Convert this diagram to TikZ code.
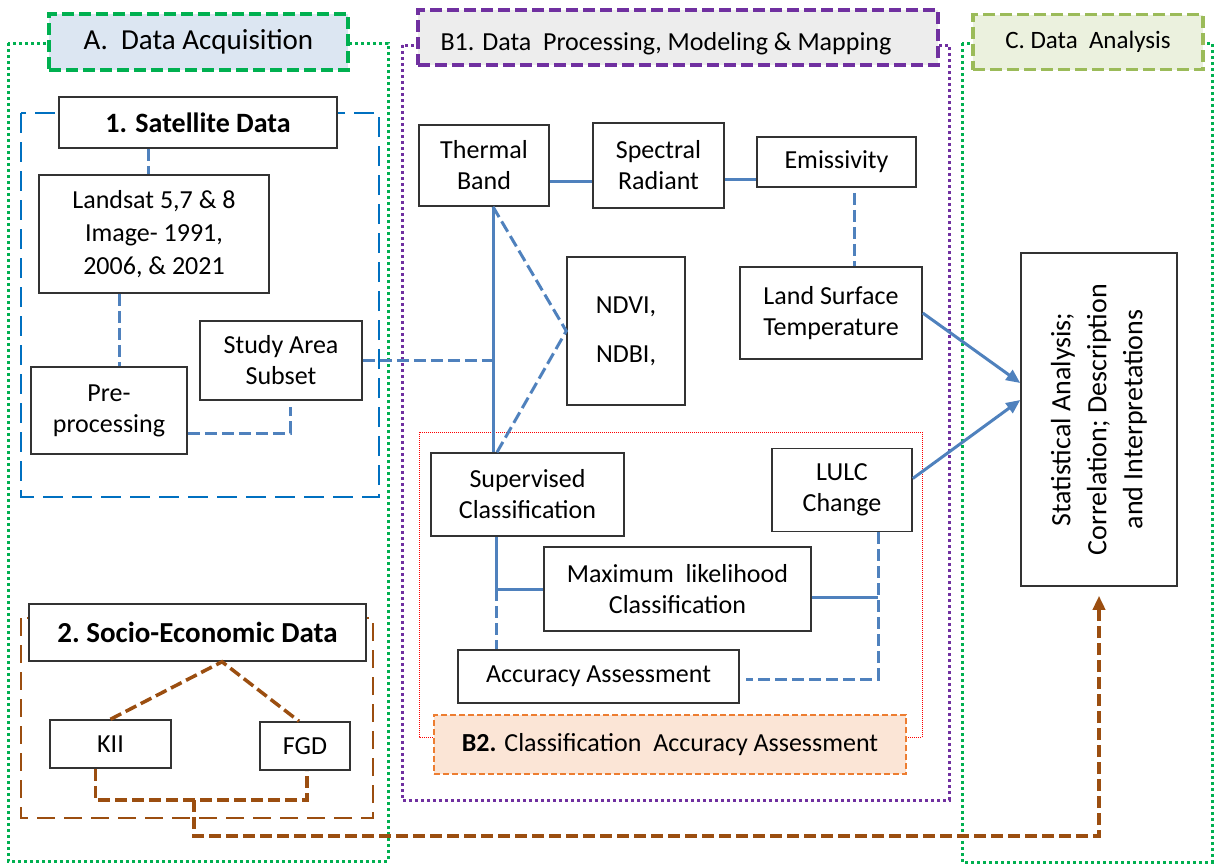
\documentclass[tikz,border=0pt]{standalone}
\usepackage{fontspec}
\setmainfont{Carlito}
\usetikzlibrary{arrows.meta,calc}
\definecolor{frgreen}{HTML}{00B050}
\definecolor{frpurple}{HTML}{7030A0}
\definecolor{frblue}{HTML}{0070C0}
\definecolor{connblue}{HTML}{4F81BD}
\definecolor{brownc}{RGB}{155,78,16}
\definecolor{boxline}{HTML}{333333}
\definecolor{fillA}{HTML}{DCE6F2}
\definecolor{fillB}{HTML}{EDEDED}
\definecolor{fillC}{HTML}{EBF1DE}
\definecolor{lineC}{HTML}{9BBB59}
\definecolor{fillBB}{HTML}{FBE5D6}
\definecolor{lineBB}{HTML}{ED7D31}
\tikzset{
  body/.style={font=\fontsize{26}{31}\selectfont},
  box/.style={draw=boxline, line width=1.5pt, fill=white, inner sep=0pt, align=center, body},
  gdot/.style={draw=frgreen, line width=3pt, dash pattern=on 3pt off 3pt},
  pdot/.style={draw=frpurple, line width=3pt, dash pattern=on 3pt off 3pt},
  satframe/.style={draw=frblue, line width=2.5pt, dash pattern=on 20pt off 9pt},
  socframe/.style={draw=brownc, line width=2.5pt, dash pattern=on 18pt off 9pt},
  redframe/.style={draw=red, line width=0.8pt, dash pattern=on 1pt off 1pt},
  titlebox/.style={line width=3.5pt, dash pattern=on 12pt off 5pt, inner sep=0pt, align=center},
  bsolid/.style={draw=connblue, line width=3pt},
  bdash/.style={draw=connblue, line width=3pt, dash pattern=on 12pt off 5pt},
  barrow/.style={bsolid, -{Triangle[length=14pt,width=12pt]}},
  brdash/.style={draw=brownc, line width=3.5pt, dash pattern=on 12pt off 5pt},
  brarrow/.style={brdash, -{Triangle[length=14pt,width=12pt]}},
}
\begin{document}
\begin{tikzpicture}[x=1pt,y=-1pt]
\useasboundingbox (0,0) rectangle (1214,863);

% section frames
\draw[gdot] (8,43) rectangle (388,861);
\draw[pdot] (402,45) rectangle (949,800);
\draw[gdot] (962,43) rectangle (1212,862);
\draw[satframe] (21,113) rectangle (379,497);
\draw[socframe] (21,618) rectangle (373,818);
\draw[redframe] (419,432) rectangle (922,737);

% section titles
\node[titlebox, draw=frgreen, fill=fillA, minimum width=299pt, minimum height=56pt,
      font=\fontsize{29}{34}\selectfont] (atitle) at (198.5,42) {A.\ \ Data Acquisition};
\node[titlebox, draw=frpurple, fill=fillB, line width=4pt, minimum width=520pt, minimum height=55pt] (b1title) at (678,37.5) {};
\node[body, inner sep=0pt] (b1text) at (666,44) {B1. Data\ \ Processing, Modeling \& Mapping};
\node[titlebox, draw=lineC, fill=fillC, minimum width=230pt, minimum height=55pt,
      font=\fontsize{25}{30}\selectfont] (ctitle) at (1088,42) {C. Data\ \ Analysis};
\node[titlebox, draw=lineBB, fill=fillBB, line width=2pt, dash pattern=on 6pt off 3pt,
      minimum width=472pt, minimum height=59pt, body] (b2title) at (670,744.5)
      {\textbf{B2.} Classification\ \ Accuracy Assessment};

% A. data acquisition boxes
\node[box, minimum width=278pt, minimum height=51pt, font=\bfseries\fontsize{28}{33}\selectfont] (sat) at (198,122.5) {1. Satellite Data};
\node[box, minimum width=230pt, minimum height=118pt, font=\fontsize{26}{33}\selectfont] (landsat) at (154,234) {Landsat 5,7 \& 8\\Image- 1991,\\2006, \& 2021};
\node[box, minimum width=156pt, minimum height=87pt] (pre) at (109,410.5) {Pre-\\processing};
\node[box, minimum width=162pt, minimum height=79pt] (study) at (281,360.5) {Study Area\\Subset};
\node[box, minimum width=337pt, minimum height=57pt, font=\bfseries\fontsize{29}{34}\selectfont] (socio) at (197.5,632.5) {2.\ Socio-Economic Data};
\node[box, minimum width=121pt, minimum height=48pt] (kii) at (110.5,744) {KII};
\node[box, minimum width=90pt, minimum height=48pt] (fgd) at (305,746) {FGD};

% B1. processing boxes
\node[box, minimum width=130pt, minimum height=81pt] (thermal) at (484,165.5) {Thermal\\Band};
\node[box, minimum width=131pt, minimum height=85pt] (spectral) at (658.5,165.5) {Spectral\\Radiant};
\node[box, minimum width=159pt, minimum height=50pt] (emis) at (836.5,162) {Emissivity};
\node[box, minimum width=118pt, minimum height=148pt] (ndvi) at (626,331) {NDVI,\\[18pt]NDBI,};
\node[box, minimum width=182pt, minimum height=92pt] (lst) at (831,313) {Land Surface\\Temperature};
\node[box, minimum width=193pt, minimum height=83pt] (sup) at (527.5,494.5) {Supervised\\Classification};
\node[box, minimum width=140pt, minimum height=83pt] (lulc) at (842,490) {LULC\\Change};
\node[box, minimum width=267pt, minimum height=84pt] (mlc) at (677.5,589) {Maximum\ \ likelihood\\Classification};
\node[box, minimum width=281pt, minimum height=53pt] (acc) at (598.5,676.5) {Accuracy Assessment};

% C. analysis box
\node[box, rotate=90, minimum width=333pt, minimum height=156pt, font=\fontsize{28}{36}\selectfont]
  (stat) at (1099,419.5) {Statistical Analysis;\\Correlation; Description\\and Interpretations};

% satellite data chain
\coordinate (ls) at ([xshift=-6pt]landsat.north);
\draw[bdash] (ls |- sat.south) -- (ls);
\coordinate (pn) at ([xshift=10pt]pre.north);
\draw[bdash] (pn |- landsat.south) -- (pn);
\coordinate (pe) at ([yshift=-22.5pt]pre.east);
\coordinate (ss) at ([xshift=9pt,yshift=-6pt]study.south);
\draw[bdash] (pe) -| (ss);

% thermal band branch
\coordinate (tb) at ([xshift=9pt]thermal.south);
\coordinate (sb) at (tb |- sup.north);
\draw[bsolid] (tb) -- (sb);
\draw[bdash] (tb) -- (ndvi.west) -- ([xshift=4pt]sb);
\draw[bdash] (study.east) -- (study.east -| tb);
\coordinate (ts) at ([yshift=-15.5pt]thermal.east);
\draw[bsolid] (ts) -- (ts -| spectral.west);
\coordinate (se) at ([yshift=-13.5pt]spectral.east);
\draw[bsolid] (se) -- (se -| emis.west);
\coordinate (el) at ([xshift=17.5pt,yshift=-5pt]emis.south);
\draw[bdash] (el) -- (el |- lst.north);

% classification branch
\coordinate (sv) at ([xshift=-31.5pt]sup.south);
\draw[bsolid] (sv) |- (mlc.west);
\draw[bdash] (sv |- mlc.west) -- (sv |- acc.north);
\coordinate (lr) at ([xshift=36pt]lulc.south);
\coordinate (mr) at ([yshift=-8pt]mlc.east);
\draw[bsolid] (mr) -- (mr -| lr);
\coordinate (ar) at ([xshift=6pt,yshift=-2.5pt]acc.east);
\draw[bdash] (lr) |- (ar);

% into the analysis
\draw[barrow] (lst.east) -- ([yshift=36.5pt]stat.north);
\draw[barrow] ([yshift=11.5pt]lulc.east) -- ([yshift=19.5pt]stat.north);

% socio-economic branch
\coordinate (sa) at ([xshift=24.5pt]socio.south);
\draw[brdash] (kii.north) -- (sa) -- ([xshift=-6pt]fgd.north);
\coordinate (kb) at ([xshift=-15pt]kii.south);
\coordinate (fb) at ([xshift=2pt]fgd.south);
\coordinate (bj) at (194,800);
\coordinate (bl) at (194,836);
\draw[brdash] (kb) |- (bj) -| (fb);
\draw[brarrow] (bj) -- (bl) -| ([yshift=-9pt]stat.west);
\end{tikzpicture}
\end{document}
